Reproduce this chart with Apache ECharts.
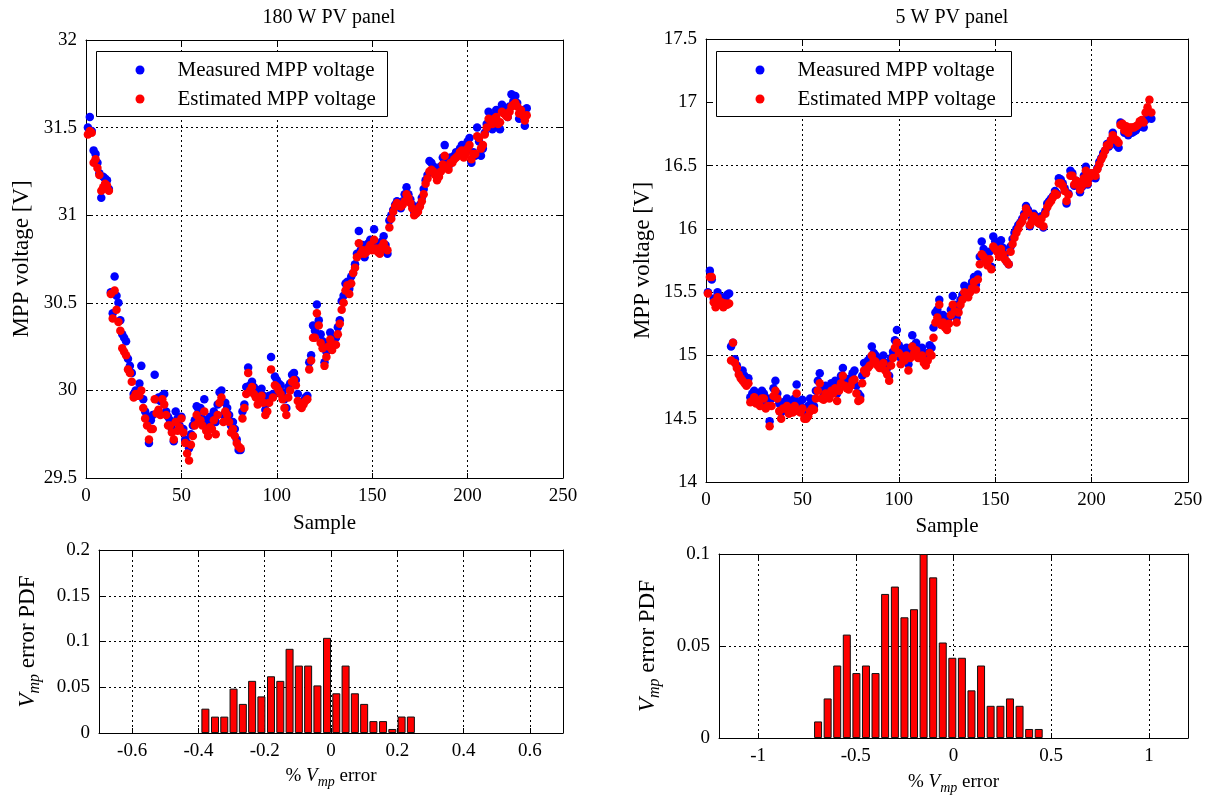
<!DOCTYPE html>
<html>
<head>
<meta charset="utf-8">
<script src="https://cdn.jsdelivr.net/npm/echarts@6/dist/echarts.min.js"></script>
<style>html,body{margin:0;padding:0;background:#fff}#c{width:1215px;height:805px}</style>
</head>
<body>
<div id="c"></div>
<script>
// ---------- DATA ----------
const titles = ['180 W PV panel', '5 W PV panel'];
const legendNames = ['Measured MPP voltage', 'Estimated MPP voltage'];

// 180 W panel, samples 1..231
const measured180 = [
31.50,31.56,31.48,31.37,31.35,31.30,31.24,31.10,31.22,31.21,31.20,31.15,
30.56,30.44,30.65,30.54,30.50,30.40,30.32,30.30,30.28,30.18,30.14,30.10,29.98,30.00,29.99,30.04,30.14,29.95,
29.88,29.85,29.70,29.83,29.86,30.09,29.95,29.96,29.94,29.97,29.98,29.88,29.85,29.83,29.78,29.71,29.88,29.84,29.80,29.85,29.78,29.72,29.70,29.67,29.75,29.80,29.83,29.91,29.88,29.90,
29.84,29.95,29.82,29.78,29.85,29.83,29.88,29.82,29.92,29.99,30.00,29.86,29.93,29.90,29.86,29.80,29.82,29.78,29.72,29.66,29.66,29.88,29.92,30.02,30.13,30.03,30.05,30.02,30.00,29.96,
30.00,30.01,29.97,29.89,29.93,29.97,30.19,29.98,30.08,30.06,30.04,30.03,29.99,29.95,29.90,30.02,30.04,30.09,30.10,30.06,29.98,29.93,29.91,29.94,29.96,29.97,30.16,30.20,30.37,30.34,
30.49,30.40,30.32,30.28,30.16,30.22,30.27,30.33,30.25,30.29,30.30,30.36,30.40,30.51,30.54,30.61,30.62,30.58,30.65,30.67,30.72,30.78,30.91,30.80,30.83,30.76,30.80,30.84,30.86,30.82,
30.92,30.84,30.80,30.79,30.85,30.88,30.83,30.78,30.97,31.00,31.03,31.06,31.08,31.06,31.04,31.08,31.12,31.16,31.12,31.09,31.06,31.02,31.01,31.03,31.06,31.10,31.15,31.20,31.23,31.31,
31.30,31.28,31.25,31.22,31.26,31.28,31.33,31.40,31.30,31.28,31.33,31.32,31.34,31.36,31.35,31.38,31.40,31.35,31.37,31.42,31.44,31.30,31.36,31.34,31.50,31.42,31.34,31.38,31.47,31.52,
31.59,31.55,31.49,31.57,31.60,31.50,31.49,31.63,31.60,31.58,31.56,31.62,31.69,31.65,31.68,31.64,31.55,31.60,31.58,31.51,31.61
];
const estimated180 = [
31.46,31.48,31.47,31.30,31.32,31.27,31.23,31.14,31.16,31.18,31.17,31.14,
30.55,30.41,30.57,30.46,30.39,30.34,30.24,30.22,30.20,30.12,30.10,30.05,29.96,29.98,29.97,29.97,30.00,29.90,
29.84,29.80,29.72,29.78,29.78,29.95,29.87,29.89,29.86,29.95,29.92,29.86,29.80,29.80,29.76,29.72,29.82,29.77,29.79,29.84,29.76,29.70,29.64,29.60,29.69,29.74,29.80,29.86,29.82,29.83,
29.80,29.88,29.77,29.74,29.79,29.78,29.83,29.75,29.86,29.93,29.96,29.82,29.88,29.86,29.82,29.76,29.78,29.74,29.70,29.68,29.67,29.84,29.90,29.98,30.10,30.00,30.02,29.98,29.96,29.92,
29.95,29.97,29.93,29.86,29.88,29.93,30.12,29.96,30.03,30.02,30.00,29.98,29.95,29.90,29.86,29.96,30.00,30.05,30.06,30.03,29.94,29.91,29.90,29.92,29.94,29.95,30.12,30.17,30.30,30.30,
30.44,30.37,30.27,30.24,30.14,30.19,30.25,30.29,30.23,30.26,30.26,30.32,30.38,30.46,30.50,30.57,30.60,30.55,30.61,30.67,30.70,30.76,30.84,30.78,30.80,30.78,30.79,30.81,30.83,30.80,
30.86,30.81,30.79,30.78,30.82,30.84,30.81,30.80,30.93,30.98,31.02,31.05,31.07,31.06,31.05,31.06,31.08,31.12,31.10,31.07,31.04,31.00,31.01,31.02,31.05,31.08,31.12,31.18,31.21,31.25,
31.26,31.25,31.23,31.20,31.22,31.25,31.29,31.34,31.27,31.26,31.30,31.30,31.32,31.33,31.34,31.36,31.37,31.33,31.35,31.38,31.40,31.32,31.35,31.35,31.45,31.44,31.38,31.40,31.46,31.50,
31.55,31.54,31.52,31.55,31.56,31.52,31.53,31.59,31.58,31.57,31.56,31.59,31.62,31.63,31.64,31.62,31.58,31.60,31.57,31.54,31.57
];

// 5 W panel, samples 1..231
const measured5 = [
15.50,15.67,15.60,15.45,15.42,15.50,15.44,15.46,15.40,15.45,15.48,15.49,
15.07,15.10,14.97,14.92,14.88,14.86,14.88,14.84,14.80,14.82,14.67,14.70,14.72,14.70,14.66,14.68,14.72,14.70,
14.62,14.66,14.48,14.66,14.74,14.80,14.70,14.62,14.55,14.63,14.60,14.66,14.60,14.63,14.58,14.66,14.77,14.62,14.60,14.65,14.55,14.58,14.60,14.66,14.64,14.60,14.72,14.80,14.86,14.73,
14.70,14.76,14.74,14.72,14.78,14.76,14.80,14.70,14.78,14.84,14.90,14.82,14.80,14.78,14.82,14.86,14.88,14.76,14.70,14.68,14.84,14.94,14.92,14.96,14.98,15.07,15.02,15.00,14.98,14.95,
14.96,15.00,14.94,14.90,14.84,14.98,15.03,15.12,15.20,15.08,14.98,15.05,15.02,15.06,14.93,15.04,15.16,15.08,15.10,15.02,15.04,15.06,15.00,14.96,15.02,15.08,15.06,15.22,15.34,15.36,
15.44,15.30,15.32,15.28,15.24,15.30,15.36,15.47,15.40,15.30,15.38,15.44,15.48,15.55,15.52,15.50,15.54,15.58,15.62,15.56,15.64,15.78,15.90,15.84,15.80,15.76,15.82,15.70,15.94,15.90,
15.86,15.82,15.91,15.85,15.80,15.74,15.72,15.86,15.92,15.97,16.00,16.03,16.05,16.08,16.12,16.18,16.15,16.02,16.08,16.12,16.10,16.06,16.04,16.10,16.01,16.14,16.20,16.22,16.24,16.26,
16.30,16.28,16.40,16.39,16.36,16.32,16.20,16.28,16.46,16.44,16.34,16.38,16.36,16.29,16.33,16.42,16.49,16.35,16.40,16.44,16.42,16.40,16.48,16.53,16.56,16.60,16.62,16.67,16.65,16.70,
16.76,16.70,16.66,16.64,16.84,16.82,16.76,16.80,16.74,16.78,16.76,16.77,16.78,16.80,16.82,16.84,16.80,16.86,16.90,16.92,16.87
];
const estimated5 = [
15.49,15.62,15.62,15.42,15.38,15.46,15.40,15.42,15.38,15.41,15.40,15.41,
14.96,15.10,14.94,14.90,14.85,14.82,14.80,14.78,14.76,14.78,14.63,14.64,14.67,14.62,14.64,14.60,14.66,14.66,
14.58,14.60,14.44,14.60,14.68,14.72,14.66,14.56,14.50,14.58,14.58,14.60,14.54,14.58,14.55,14.60,14.70,14.56,14.55,14.58,14.50,14.50,14.52,14.56,14.58,14.57,14.66,14.72,14.78,14.66,
14.65,14.70,14.68,14.66,14.72,14.70,14.74,14.64,14.72,14.78,14.84,14.76,14.74,14.73,14.76,14.80,14.81,14.70,14.64,14.65,14.78,14.88,14.86,14.90,14.92,15.00,14.96,14.95,14.92,14.90,
14.90,14.94,14.88,14.85,14.80,14.92,14.98,15.06,15.10,15.02,14.93,14.99,14.96,15.00,14.88,14.98,15.07,15.02,15.04,14.98,14.98,15.00,14.94,14.92,14.96,15.02,15.00,15.14,15.26,15.30,
15.40,15.24,15.26,15.22,15.20,15.25,15.32,15.40,15.35,15.26,15.34,15.40,15.44,15.50,15.47,15.46,15.50,15.53,15.58,15.52,15.60,15.72,15.80,15.78,15.74,15.71,15.76,15.68,15.86,15.84,
15.82,15.78,15.84,15.80,15.76,15.74,15.72,15.82,15.88,15.93,15.97,16.00,16.04,16.06,16.10,16.16,16.13,16.03,16.06,16.10,16.08,16.05,16.04,16.08,16.02,16.12,16.17,16.20,16.22,16.25,
16.28,16.27,16.36,16.36,16.34,16.30,16.22,16.27,16.42,16.42,16.35,16.38,16.37,16.31,16.34,16.40,16.46,16.36,16.41,16.44,16.43,16.42,16.47,16.51,16.55,16.58,16.62,16.66,16.66,16.70,
16.74,16.71,16.70,16.68,16.82,16.83,16.78,16.81,16.76,16.80,16.80,16.80,16.81,16.82,16.85,16.86,16.84,16.92,16.96,17.02,16.92
];

// Error histograms (bin centres in % and PDF heights)
const binCenters180 = [-0.379,-0.350,-0.322,-0.294,-0.266,-0.238,-0.210,-0.181,-0.153,-0.125,-0.097,-0.069,-0.041,-0.012,0.016,0.044,0.072,0.100,0.128,0.157,0.185,0.213,0.241];
const pdf180 = [0.0266,0.0179,0.0179,0.0485,0.0318,0.057,0.040,0.062,0.057,0.092,0.0737,0.0737,0.052,0.104,0.0434,0.0737,0.0434,0.0318,0.013,0.013,0.0044,0.018,0.018];
const binCenters5 = [-0.693,-0.644,-0.595,-0.546,-0.497,-0.448,-0.399,-0.350,-0.300,-0.251,-0.202,-0.153,-0.104,-0.055,-0.006,0.043,0.092,0.141,0.190,0.240,0.289,0.338,0.387,0.436];
const pdf5 = [0.009,0.0215,0.0394,0.0562,0.0353,0.0394,0.0353,0.0783,0.0823,0.0656,0.070,0.100,0.0873,0.0519,0.0436,0.0436,0.0259,0.0394,0.0175,0.0175,0.0215,0.0175,0.0049,0.0049];

// Tick values
const histTicks180 = [-0.6,-0.4,-0.2,0,0.2,0.4,0.6];
const histTicks5 = [-1,-0.5,0,0.5,1];

// ---------- CHART ----------
const FONT = "'Liberation Serif','Times New Roman',serif";
const BLUE = '#0000ff', RED = '#ff0000';
const chart = echarts.init(document.getElementById('c'), null, {renderer: 'canvas'});

const grids = [
  {left: 86, top: 40, width: 477, height: 438},
  {left: 706, top: 39, width: 482, height: 443},
  {left: 99, top: 550, width: 464, height: 183},
  {left: 719, top: 554, width: 469, height: 184}
];

function richFor(main, sub, lh) {
  return {
    v: {fontFamily: FONT, fontSize: main, fontStyle: 'italic', color: '#000', lineHeight: lh, verticalAlign: 'middle'},
    s: {fontFamily: FONT, fontSize: sub, fontStyle: 'italic', color: '#000', lineHeight: lh, verticalAlign: 'bottom'},
    n: {fontFamily: FONT, fontSize: main, color: '#000', lineHeight: lh, verticalAlign: 'middle'}
  };
}

function baseAxis(gridIndex, min, max, interval, custom) {
  const ax = {
    type: 'value', gridIndex, min, max,
    axisLine: {show: true, onZero: false, lineStyle: {color: '#000', width: 1}},
    axisTick: {show: true, inside: true, length: 5, lineStyle: {color: '#000'}},
    axisLabel: {show: true, color: '#000', fontFamily: FONT, fontSize: 19, margin: 9},
    splitLine: {show: true, lineStyle: {color: '#000', width: 1, type: [2, 3]}},
    nameTextStyle: {fontFamily: FONT, fontSize: 21, color: '#000'},
    nameLocation: 'middle'
  };
  if (custom) {
    ax.axisTick.customValues = custom;
    ax.axisLabel.customValues = custom;
  } else {
    ax.interval = interval;
  }
  return ax;
}
function mirror(ax, pos) {
  const m = JSON.parse(JSON.stringify(ax));
  m.position = pos;
  m.axisLabel.show = false;
  m.splitLine = {show: false};
  delete m.name;
  return m;
}

const xName = '{n|% }{v|V}{s|mp}{n| error}';
const yName = '{v|V}{s|mp}{n| error PDF}';

const xMain = [
  Object.assign(baseAxis(0, 0, 250, 50), {name: 'Sample', nameGap: 35, position: 'bottom'}),
  Object.assign(baseAxis(1, 0, 250, 50), {name: 'Sample', nameGap: 34, position: 'bottom'}),
  Object.assign(baseAxis(2, -0.7, 0.7, null, histTicks180), {name: xName, nameGap: 30, position: 'bottom'}),
  Object.assign(baseAxis(3, -1.2, 1.2, null, histTicks5), {name: xName, nameGap: 31, position: 'bottom'})
];
xMain[2].nameTextStyle.rich = richFor(19, 14, 26);
xMain[3].nameTextStyle.rich = richFor(19, 14, 26);

const yMain = [
  Object.assign(baseAxis(0, 29.5, 32, 0.5), {name: 'MPP voltage [V]', nameGap: 53, position: 'left'}),
  Object.assign(baseAxis(1, 14, 17.5, 0.5), {name: 'MPP voltage [V]', nameGap: 52, position: 'left'}),
  Object.assign(baseAxis(2, 0, 0.2, 0.05), {name: yName, nameGap: 56, position: 'left'}),
  Object.assign(baseAxis(3, 0, 0.1, 0.05), {name: yName, nameGap: 56, position: 'left'})
];
yMain[0].nameTextStyle.fontSize = 23;
yMain[1].nameTextStyle.fontSize = 23;
yMain[2].nameTextStyle.rich = richFor(23, 16, 30);
yMain[3].nameTextStyle.rich = richFor(23, 16, 30);

const xAxes = xMain.concat(xMain.map(a => mirror(a, 'top')));
const yAxes = yMain.concat(yMain.map(a => mirror(a, 'right')));

function pts(arr) { return arr.map((v, i) => [i + 1, v]); }
function bars(c, h) { return c.map((x, i) => [x, h[i]]); }

const scatterCommon = {type: 'scatter', symbol: 'circle', symbolSize: 8.5, animation: false};
const series = [
  Object.assign({}, scatterCommon, {name: legendNames[0], xAxisIndex: 0, yAxisIndex: 0, data: pts(measured180), itemStyle: {color: BLUE, opacity: 1}, z: 2}),
  Object.assign({}, scatterCommon, {name: legendNames[1], xAxisIndex: 0, yAxisIndex: 0, data: pts(estimated180), itemStyle: {color: RED, opacity: 1}, z: 3}),
  Object.assign({}, scatterCommon, {name: legendNames[0], xAxisIndex: 1, yAxisIndex: 1, data: pts(measured5), itemStyle: {color: BLUE, opacity: 1}, z: 2}),
  Object.assign({}, scatterCommon, {name: legendNames[1], xAxisIndex: 1, yAxisIndex: 1, data: pts(estimated5), itemStyle: {color: RED, opacity: 1}, z: 3}),
  {type: 'bar', xAxisIndex: 2, yAxisIndex: 2, data: bars(binCenters180, pdf180), barWidth: 8, animation: false,
   itemStyle: {color: RED, borderColor: '#111', borderWidth: 1}},
  {type: 'bar', xAxisIndex: 3, yAxisIndex: 3, data: bars(binCenters5, pdf5), barWidth: 8, animation: false,
   itemStyle: {color: RED, borderColor: '#111', borderWidth: 1}}
];

function legendAt(left, top) {
  return {
    show: true, orient: 'vertical', left, top, data: legendNames.map(n => ({name: n, icon: 'circle'})),
    itemWidth: 9, itemHeight: 9, itemGap: 8, selectedMode: false, z: 10,
    textStyle: {fontFamily: FONT, fontSize: 21, color: '#000', padding: [0, 0, 0, 28]}
  };
}

const option = {
  backgroundColor: '#fff',
  animation: false,
  title: [
    {text: titles[0], left: 324, top: 3, textAlign: 'center', textStyle: {fontFamily: FONT, fontSize: 20, fontWeight: 'normal', color: '#000'}},
    {text: titles[1], left: 947, top: 3, textAlign: 'center', textStyle: {fontFamily: FONT, fontSize: 20, fontWeight: 'normal', color: '#000'}}
  ],
  grid: grids.map(g => Object.assign({containLabel: false, show: false}, g)),
  xAxis: xAxes,
  yAxis: yAxes,
  legend: [legendAt(130.5, 54.5), legendAt(750.5, 54.5)],
  graphic: [
    {type: 'rect', z: 5, shape: {x: 96.5, y: 51.5, width: 291, height: 65}, style: {fill: '#fff', stroke: '#000', lineWidth: 1}},
    {type: 'rect', z: 5, shape: {x: 716.5, y: 51.5, width: 295, height: 65}, style: {fill: '#fff', stroke: '#000', lineWidth: 1}}
  ],
  series
};
chart.setOption(option);
</script>
</body>
</html>
